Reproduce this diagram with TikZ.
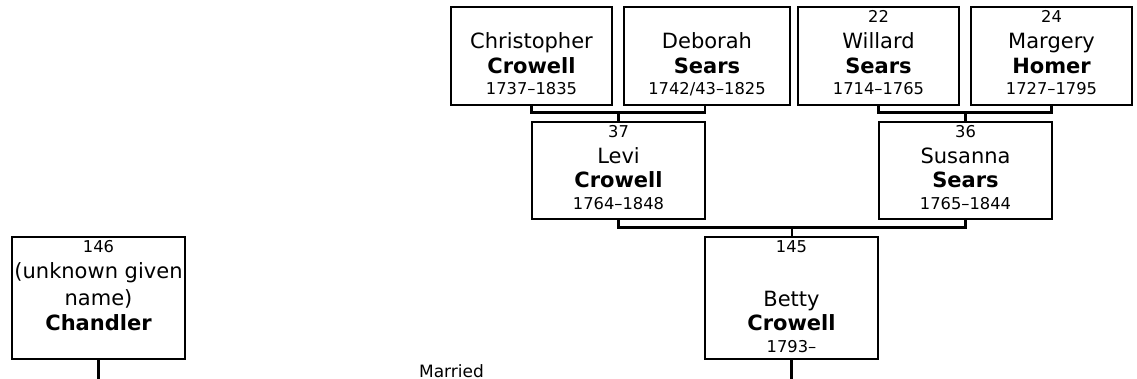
\documentclass[tikz,border=0pt]{standalone}
\usepackage{fontspec}
\setmainfont{DejaVu Sans}
\begin{document}
\begin{tikzpicture}[x=1pt,y=-1pt,
  pbox/.style={draw=black, line width=2.5pt, fill=white, rectangle, inner sep=0pt, outer sep=0pt},
  topbox/.style={pbox, minimum width=161pt, minimum height=98pt},
  midbox/.style={pbox, minimum width=173pt, minimum height=97pt},
  lowbox/.style={pbox, minimum width=173pt, minimum height=122pt},
  nm/.style={anchor=base, inner sep=0pt, font=\fontsize{21}{24}\selectfont},
  sn/.style={anchor=base, inner sep=0pt, font=\fontsize{21}{24}\selectfont\bfseries},
  sm/.style={anchor=base, inner sep=0pt, font=\fontsize{16.3}{18}\selectfont},
  conn/.style={draw=black, line width=2.5pt}]
\path[use as bounding box] (0,0) rectangle (1137,379);

% boxes
\node[topbox] (chris) at (531.5,56) {};
\node[topbox, minimum width=166pt] (deb) at (707,56) {};
\node[topbox] (wil) at (878.5,56) {};
\node[topbox] (mar) at (1051.5,56) {};
\node[midbox] (levi) at (618.5,170.5) {};
\node[midbox] (sus) at (965.5,170.5) {};
\node[lowbox] (betty) at (791.5,298) {};
\node[lowbox] (chand) at (98.5,298) {};

% junctions
\coordinate (j1) at (618.5,112.5);
\coordinate (j2) at (965.5,112.5);
\coordinate (j3) at (792,227.5);
\coordinate (bend) at (791.5,381);
\coordinate (cend) at (98.5,381);

% connectors
\draw[conn] (chris.south) |- (j1) -| (deb.south -| levi.north east);
\draw[conn] (j1) -- (levi.north);
\draw[conn] (wil.south) |- (j2) -| (mar.south);
\draw[conn] (j2) -- (sus.north);
\draw[conn] (levi.south) |- (j3) -| (sus.south);
\draw[conn] (j3) -- (betty.north -| j3);
\draw[conn] (betty.south) -- (bend);
\draw[conn] (chand.south) -- (cend);

% texts: Christopher
\node[nm] (chris-g) at ([yshift=-42pt]chris.north) {Christopher};
\node[sn] (chris-s) at ([yshift=-66.5pt]chris.north) {Crowell};
\node[sm] (chris-d) at ([yshift=-88pt]chris.north) {1737–1835};
% Deborah
\node[nm] (deb-g) at ([yshift=-42pt]deb.north) {Deborah};
\node[sn] (deb-s) at ([yshift=-66.5pt]deb.north) {Sears};
\node[sm] (deb-d) at ([yshift=-88pt]deb.north) {1742/43–1825};
% Willard
\node[sm] (wil-n) at ([yshift=-15.5pt]wil.north) {22};
\node[nm] (wil-g) at ([yshift=-42pt]wil.north) {Willard};
\node[sn] (wil-s) at ([yshift=-66.5pt]wil.north) {Sears};
\node[sm] (wil-d) at ([yshift=-88pt]wil.north) {1714–1765};
% Margery
\node[sm] (mar-n) at ([yshift=-15.5pt]mar.north) {24};
\node[nm] (mar-g) at ([yshift=-42pt]mar.north) {Margery};
\node[sn] (mar-s) at ([yshift=-66.5pt]mar.north) {Homer};
\node[sm] (mar-d) at ([yshift=-88pt]mar.north) {1727–1795};
% Levi
\node[sm] (levi-n) at ([yshift=-15.5pt]levi.north) {37};
\node[nm] (levi-g) at ([yshift=-41.5pt]levi.north) {Levi};
\node[sn] (levi-s) at ([yshift=-66pt]levi.north) {Crowell};
\node[sm] (levi-d) at ([yshift=-88pt]levi.north) {1764–1848};
% Susanna
\node[sm] (sus-n) at ([yshift=-15.5pt]sus.north) {36};
\node[nm] (sus-g) at ([yshift=-41.5pt]sus.north) {Susanna};
\node[sn] (sus-s) at ([yshift=-66pt]sus.north) {Sears};
\node[sm] (sus-d) at ([yshift=-88pt]sus.north) {1765–1844};
% Betty
\node[sm] (betty-n) at ([yshift=-16pt]betty.north) {145};
\node[nm] (betty-g) at ([yshift=-69pt]betty.north) {Betty};
\node[sn] (betty-s) at ([yshift=-93pt]betty.north) {Crowell};
\node[sm] (betty-d) at ([yshift=-115pt]betty.north) {1793–};
% Chandler
\node[sm] (chand-n) at ([yshift=-16pt]chand.north) {146};
\node[nm] (chand-g1) at ([yshift=-42pt]chand.north) {(unknown given};
\node[nm] (chand-g2) at ([yshift=-68.5pt]chand.north) {name)};
\node[sn] (chand-s) at ([yshift=-93pt]chand.north) {Chandler};

% Married
\node[sm, font=\fontsize{17}{19}\selectfont] (married) at (451.5,377) {Married};
\end{tikzpicture}
\end{document}
